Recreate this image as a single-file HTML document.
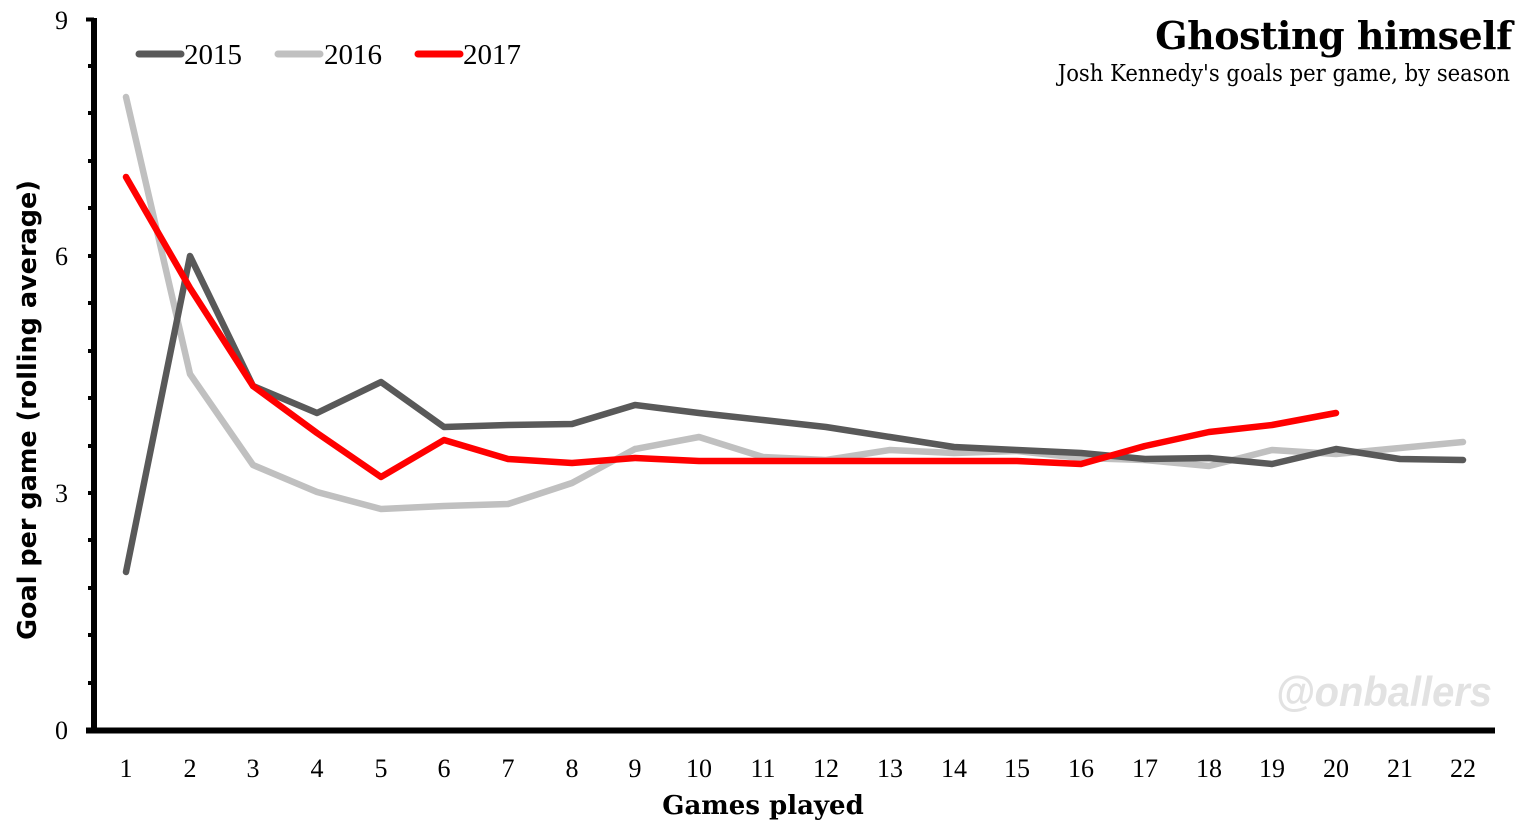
<!DOCTYPE html>
<html><head><meta charset="utf-8"><style>
html,body{margin:0;padding:0;background:#fff;}
svg{display:block;}
</style></head><body>
<svg width="1526" height="825" viewBox="0 0 1526 825" xmlns="http://www.w3.org/2000/svg">
<g font-family="Liberation Serif, DejaVu Serif, serif">
<text x="1512" y="49" text-anchor="end" font-size="38" font-weight="bold" font-family="DejaVu Serif, Liberation Serif, serif" letter-spacing="-0.5">Ghosting himself</text>
<text x="1510" y="81" text-anchor="end" font-size="23" font-family="DejaVu Serif, Liberation Serif, serif" transform="translate(1510 0) scale(0.92 1) translate(-1510 0)">Josh Kennedy's goals per game, by season</text>
<text x="1492" y="706" text-anchor="end" font-size="42" font-weight="bold" font-style="italic" fill="#e2e2e2" font-family="Liberation Sans, sans-serif" transform="translate(1492 0) scale(0.95 1) translate(-1492 0)">@onballers</text>
<line x1="94" y1="18" x2="94" y2="733" stroke="#000" stroke-width="6"/>
<line x1="86" y1="730.5" x2="1495" y2="730.5" stroke="#000" stroke-width="6"/>
<line x1="86" y1="19.5" x2="94" y2="19.5" stroke="#000" stroke-width="4"/>
<g stroke="#000" stroke-width="4">
<line x1="88" y1="66" x2="94" y2="66"/><line x1="88" y1="113" x2="94" y2="113"/><line x1="88" y1="161" x2="94" y2="161"/><line x1="88" y1="208" x2="94" y2="208"/><line x1="88" y1="256" x2="94" y2="256"/><line x1="88" y1="303" x2="94" y2="303"/><line x1="88" y1="351" x2="94" y2="351"/><line x1="88" y1="398" x2="94" y2="398"/><line x1="88" y1="446" x2="94" y2="446"/><line x1="88" y1="493" x2="94" y2="493"/><line x1="88" y1="540" x2="94" y2="540"/><line x1="88" y1="588" x2="94" y2="588"/><line x1="88" y1="635" x2="94" y2="635"/><line x1="88" y1="683" x2="94" y2="683"/>
</g>
<g font-size="26" text-anchor="end">
<text x="68" y="29">9</text><text x="68" y="265">6</text><text x="68" y="502">3</text><text x="68" y="739">0</text>
</g>
<g font-size="26" text-anchor="middle">
<text x="126" y="777">1</text><text x="190" y="777">2</text><text x="253" y="777">3</text><text x="317" y="777">4</text><text x="381" y="777">5</text><text x="444" y="777">6</text><text x="508" y="777">7</text><text x="572" y="777">8</text><text x="635" y="777">9</text><text x="699" y="777">10</text><text x="763" y="777">11</text><text x="826" y="777">12</text><text x="890" y="777">13</text><text x="954" y="777">14</text><text x="1017" y="777">15</text><text x="1081" y="777">16</text><text x="1145" y="777">17</text><text x="1209" y="777">18</text><text x="1272" y="777">19</text><text x="1336" y="777">20</text><text x="1400" y="777">21</text><text x="1463" y="777">22</text>
</g>
<text x="763" y="814" text-anchor="middle" font-size="26" font-weight="bold" font-family="DejaVu Serif, Liberation Serif, serif">Games played</text>
<text transform="translate(36 410) rotate(-90)" text-anchor="middle" font-size="25.5" font-weight="bold" font-family="DejaVu Sans, Liberation Sans, sans-serif">Goal per game (rolling average)</text>
<g stroke-width="7" stroke-linecap="round">
<line x1="139" y1="54" x2="181" y2="54" stroke="#595959"/>
<line x1="278" y1="54" x2="320" y2="54" stroke="#c0c0c0"/>
<line x1="418" y1="54" x2="460" y2="54" stroke="#ff0000"/>
</g>
<g font-size="29"><text x="184" y="64">2015</text><text x="324" y="64">2016</text><text x="463" y="64">2017</text></g>
<g fill="none" stroke-width="6.5" stroke-linejoin="round" stroke-linecap="round">
<polyline stroke="#c0c0c0" points="126,97 190,374 253,465 317,492 381,509 444,506 508,504 572,483 635,449 699,437 763,457 826,460 890,450 954,453 1017,451 1081,458 1145,460 1209,466 1272,450 1336,454 1400,448 1463,442"/>
<polyline stroke="#595959" points="126,572 190,256 253,386 317,413 381,382 444,427 508,425 572,424 635,405 699,413 763,420 826,427 890,437 954,447 1017,450 1081,453 1145,459 1209,458 1272,464 1336,449 1400,459 1463,460"/>
<polyline stroke="#ff0000" points="126,177 190,288 253,386 317,433 381,477 444,440 508,459 572,463 635,458 699,461 763,461 826,461 890,461 954,461 1017,461 1081,464 1145,446 1209,432 1272,425 1336,413"/>
</g>
</g>
</svg>
</body></html>
